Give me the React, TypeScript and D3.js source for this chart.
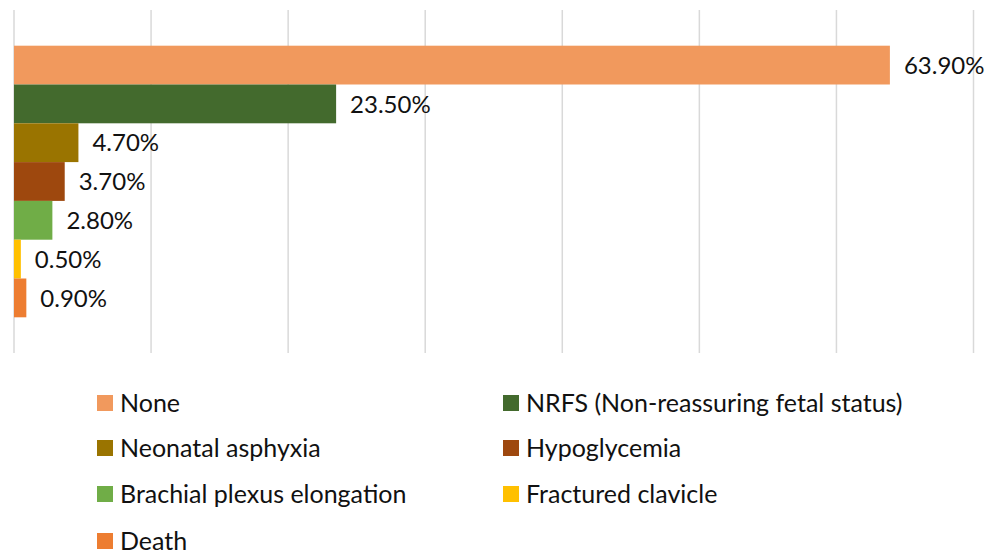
import * as d3 from "d3";
import { useEffect } from "react";

const categories = [
  "None",
  "NRFS (Non-reassuring fetal status)",
  "Neonatal asphyxia",
  "Hypoglycemia",
  "Brachial plexus elongation",
  "Fractured clavicle",
  "Death",
];
const values = [63.9, 23.5, 4.7, 3.7, 2.8, 0.5, 0.9];
const colors = ["#F1995D", "#436A2D", "#9A7400", "#9E480E", "#70AD47", "#FFC000", "#ED7D31"];
const gridTicks = [0, 10, 20, 30, 40, 50, 60, 70];

export default function App() {
  useEffect(() => {
    document.body.style.margin = "0";
  }, []);

  const width = 996;
  const height = 555;
  const font = "Lato, 'Open Sans', sans-serif";

  const x = d3.scaleLinear().domain([0, 70]).range([14, 973.5]);
  const y = d3
    .scaleBand()
    .domain(categories)
    .range([10, 353])
    .paddingInner(0)
    .paddingOuter(0.92);

  const legendCols = [97, 503];
  const legendRows = [403, 448, 494, 541];

  return (
    <svg width={width} height={height} style={{ display: "block", background: "#fff" }}>
      {gridTicks.map((t) => (
        <line
          key={t}
          x1={x(t)}
          x2={x(t)}
          y1={10}
          y2={353}
          stroke="#d9d9d9"
          strokeWidth={1.5}
        />
      ))}

      {categories.map((c, i) => (
        <g key={c}>
          <rect
            x={x(0)}
            y={y(c)}
            width={x(values[i]) - x(0)}
            height={y.bandwidth()}
            fill={colors[i]}
          />
          <text
            x={x(values[i]) + 14}
            y={(y(c) ?? 0) + y.bandwidth() / 2}
            dy="0.36em"
            fontFamily={font}
            fontSize={24}
            fill="#111"
          >
            {values[i].toFixed(2)}%
          </text>
        </g>
      ))}

      {categories.map((c, i) => {
        const cx = legendCols[i % 2];
        const cy = legendRows[Math.floor(i / 2)];
        return (
          <g key={"lg" + c}>
            <rect x={cx} y={cy - 8} width={16} height={16} fill={colors[i]} />
            <text
              x={cx + 23}
              y={cy}
              dy="0.36em"
              fontFamily={font}
              fontSize={25}
              fill="#111"
            >
              {c}
            </text>
          </g>
        );
      })}
    </svg>
  );
}
